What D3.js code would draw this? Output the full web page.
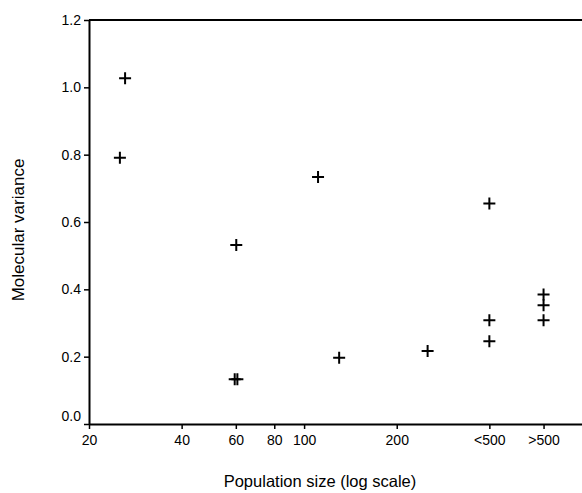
<!DOCTYPE html>
<html>
<head>
<meta charset="utf-8">
<script src="https://cdn.jsdelivr.net/npm/d3@7"></script>
<style>
  body { margin: 0; background: #fff; }
  text { font-family: "Liberation Sans", Arial, sans-serif; fill: #000; }
</style>
</head>
<body>
<div id="chart"></div>
<script>
/* -----------------    DATA     ------------------ */
const populationSize = [26.2, 25.2, 111, 60.2, 130, 59.5, 60.7, 400, 252, 400, 400, 600, 600, 600];
const molecularVariance = [1.027, 0.791, 0.734, 0.532, 0.197, 0.133, 0.133, 0.655, 0.217, 0.308, 0.246, 0.385, 0.353, 0.308];

const xTickValues = [20, 40, 60, 80, 100, 200, 400, 600];
const xTickLabels = ['20', '40', '60', '80', '100', '200', '<500', '>500'];
const yTickValues = [0, 0.2, 0.4, 0.6, 0.8, 1.0, 1.2];

/* -----------------    SETTINGS     ------------------ */
const width = 582;
const height = 493;
const margin = { left: 89, top: 20, right: 0, bottom: 69 };

const svg = d3.select('#chart')
  .append('svg')
  .attr('width', width)
  .attr('height', height);

// Scales
const xScale = d3.scaleLog()
  .domain([20, 800])
  .range([margin.left, width - margin.right]);

const yScale = d3.scaleLinear()
  .domain([0, 1.2])
  .range([height - margin.bottom, margin.top]);

// Axes
const xAxis = d3.axisBottom(xScale)
  .tickValues(xTickValues)
  .tickFormat((d, i) => xTickLabels[i])
  .tickSize(5)
  .tickSizeOuter(0);

const yAxis = d3.axisLeft(yScale)
  .tickValues(yTickValues)
  .tickFormat(d3.format('.1f'))
  .tickSize(5)
  .tickSizeOuter(0);

const gx = svg.append('g')
  .attr('transform', `translate(0, ${height - margin.bottom})`)
  .call(xAxis);

const gy = svg.append('g')
  .attr('transform', `translate(${margin.left}, 0)`)
  .call(yAxis);

[gx, gy].forEach(g => {
  g.select('.domain').attr('stroke', '#000').attr('stroke-width', 2);
  g.selectAll('.tick line').attr('stroke', '#000').attr('stroke-width', 1.5);
  g.selectAll('.tick text')
    .attr('font-size', 14)
    .attr('font-family', '"Liberation Sans", Arial, sans-serif')
    .attr('fill', '#000');
});

gx.selectAll('.tick text').attr('dy', '0.9em');
gy.selectAll('.tick text').attr('x', -8);
// lift the 0.0 label clear of the x labels
gy.selectAll('.tick text').filter(d => d === 0).attr('dy', '-0.25em');

// Top frame line
svg.append('line')
  .attr('x1', margin.left)
  .attr('x2', width)
  .attr('y1', yScale(1.2))
  .attr('y2', yScale(1.2))
  .attr('stroke', '#000')
  .attr('stroke-width', 2);

// Axis titles
svg.append('text')
  .attr('x', 320)
  .attr('y', 487)
  .attr('text-anchor', 'middle')
  .attr('font-size', 16.5)
  .text('Population size (log scale)');

svg.append('text')
  .attr('transform', 'translate(24, 230) rotate(-90)')
  .attr('text-anchor', 'middle')
  .attr('font-size', 17)
  .text('Molecular variance');

// Plus markers
const points = populationSize.map((x, i) => ({ x, y: molecularVariance[i] }));
const arm = 6;

svg.append('g')
  .attr('id', 'points')
  .selectAll('path')
  .data(points)
  .enter()
  .append('path')
  .attr('d', d => {
    const cx = xScale(d.x);
    const cy = yScale(d.y);
    return `M${cx - arm},${cy}H${cx + arm}M${cx},${cy - arm}V${cy + arm}`;
  })
  .attr('stroke', '#000')
  .attr('stroke-width', 2)
  .attr('fill', 'none');
</script>
</body>
</html>
